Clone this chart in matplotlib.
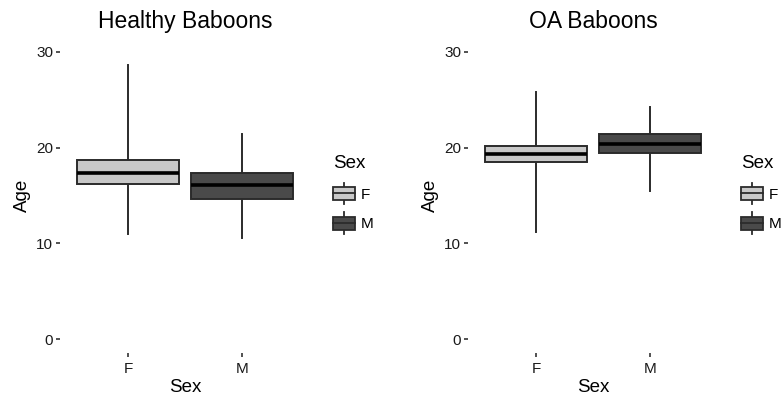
import matplotlib.pyplot as plt
from matplotlib.patches import Rectangle
from matplotlib.lines import Line2D
from matplotlib.legend_handler import HandlerBase

plt.rcParams['font.family'] = ['Liberation Sans', 'DejaVu Sans']

sexes = ['F', 'M']
fills = ['#C8C8C8', '#4A4A4A']

# five-number summaries per group: low whisker, Q1, median, Q3, high whisker
healthy_low = [11.0, 10.6]
healthy_q1 = [16.2, 14.6]
healthy_med = [17.4, 16.1]
healthy_q3 = [18.7, 17.4]
healthy_high = [28.6, 21.4]

oa_low = [11.2, 15.5]
oa_q1 = [18.5, 19.4]
oa_med = [19.3, 20.4]
oa_q3 = [20.2, 21.4]
oa_high = [25.8, 24.2]

panels = [
    ('Healthy Baboons', healthy_low, healthy_q1, healthy_med, healthy_q3, healthy_high),
    ('OA Baboons', oa_low, oa_q1, oa_med, oa_q3, oa_high),
]

edge = '#2b2b2b'


class BoxKey(HandlerBase):
    """Legend key drawn as a tiny boxplot."""
    def create_artists(self, legend, orig_handle, xdescent, ydescent,
                       width, height, fontsize, trans):
        x0, y0 = -xdescent, -ydescent
        cx = x0 + width / 2
        whisk = Line2D([cx, cx], [y0 - 0.35 * height, y0 + 1.35 * height],
                       color=edge, lw=1.3, transform=trans)
        rect = Rectangle((x0, y0), width, height, facecolor=orig_handle.get_facecolor(),
                         edgecolor=edge, lw=1.3, transform=trans)
        med = Line2D([x0, x0 + width], [y0 + height / 2] * 2,
                     color=edge, lw=1.3, transform=trans)
        return [whisk, rect, med]


fig = plt.figure(figsize=(7.82, 4.0), dpi=100)
lefts = [60 / 782, 468 / 782]
legend_x = [322 / 782, 730 / 782]

for i, (title, lo, q1, med, q3, hi) in enumerate(panels):
    ax = fig.add_axes([lefts[i], 0.1165, 250 / 782, 0.7895])
    stats = []
    for j, s in enumerate(sexes):
        stats.append(dict(label=s, whislo=lo[j], q1=q1[j], med=med[j],
                          q3=q3[j], whishi=hi[j], fliers=[]))
    bp = ax.bxp(stats, positions=[1, 2], widths=0.9, patch_artist=True,
                showcaps=False,
                boxprops=dict(edgecolor=edge, linewidth=1.4),
                whiskerprops=dict(color=edge, linewidth=1.4),
                medianprops=dict(color='black', linewidth=2.6))
    for patch, c in zip(bp['boxes'], fills):
        patch.set_facecolor(c)
    for wl in bp['whiskers']:
        wl.set_zorder(1)

    ax.set_xlim(0.4, 2.6)
    ax.set_ylim(-1.5, 31.5)
    ax.set_yticks([0, 10, 20, 30])
    for sp in ax.spines.values():
        sp.set_visible(False)
    ax.tick_params(axis='both', colors='#333333', labelcolor='#1a1a1a',
                   labelsize=11, length=3, width=1.2, pad=2)
    ax.tick_params(axis='x', pad=3)
    ax.set_title(title, fontsize=16.5, pad=7)
    ax.set_xlabel('Sex', fontsize=13.5, labelpad=2)
    ax.set_ylabel('Age', fontsize=13.5, labelpad=4)

    handles = [Rectangle((0, 0), 1, 1, facecolor=c) for c in fills]
    fig.legend(handles, sexes, title='Sex', loc='upper left',
               bbox_to_anchor=(legend_x[i], 0.64), frameon=False,
               handler_map={Rectangle: BoxKey()}, fontsize=11,
               title_fontsize=13.5, handlelength=1.45, handleheight=0.9,
               handletextpad=0.4, labelspacing=1.0, alignment='left',
               borderpad=0.2)

fig.savefig('out.png', dpi=100)
